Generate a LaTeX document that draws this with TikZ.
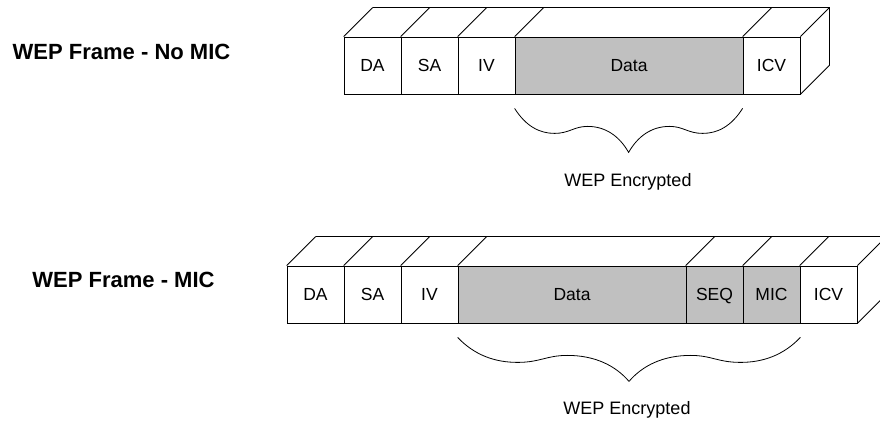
\documentclass[tikz,border=0pt]{standalone}
\usepackage{fontspec}
\setmainfont{Liberation Sans}
\usepackage{xcolor}
\usepackage{tikz}
\usetikzlibrary{calc}

\definecolor{encgray}{RGB}{192,192,192}

% wavy brace under the encrypted part, from #1 to #2
\newcommand{\encbrace}[2]{%
  \draw (#1) .. controls ($(#1)!0.05!(#2)+(0,-18)$) and ($(#1)!0.11!(#2)+(0,-25)$) .. ($(#1)!0.175!(#2)+(0,-25)$)
    .. controls ($(#1)!0.24!(#2)+(0,-25)$) and ($(#1)!0.26!(#2)+(0,-18)$) .. ($(#1)!0.32!(#2)+(0,-18)$)
    .. controls ($(#1)!0.40!(#2)+(0,-18)$) and ($(#1)!0.46!(#2)+(0,-28)$) .. ($(#1)!0.5!(#2)+(0,-44)$)
    .. controls ($(#1)!0.54!(#2)+(0,-28)$) and ($(#1)!0.60!(#2)+(0,-18)$) .. ($(#1)!0.68!(#2)+(0,-18)$)
    .. controls ($(#1)!0.74!(#2)+(0,-18)$) and ($(#1)!0.76!(#2)+(0,-25)$) .. ($(#1)!0.825!(#2)+(0,-25)$)
    .. controls ($(#1)!0.89!(#2)+(0,-25)$) and ($(#1)!0.95!(#2)+(0,-18)$) .. (#2);
}

\begin{document}
\begin{tikzpicture}[x=1pt, y=1pt, line width=0.8pt,
	cell/.style={font=\fontsize{17.5}{20}\selectfont, draw, fill=white, minimum width=57, minimum height=57, inner sep=0, text height=12.5, text depth=0, align=center},
	enc/.style={cell, fill=encgray},
	title/.style={font=\fontsize{22}{24}\selectfont\bfseries, inner sep=0},
	note/.style={font=\fontsize{18}{20}\selectfont, inner sep=0, anchor=base}
]
\useasboundingbox (0,0) rectangle (880,422);

% frame without MIC
\node[title] (t1) at (121.5,370.5) {WEP Frame - No MIC};
\node[cell] (da1) at (372.5,356.5) {DA};
\node[cell] (sa1) at (429.5,356.5) {SA};
\node[cell] (iv1) at (486.5,356.5) {IV};
\node[enc, minimum width=228] (data1) at (629,356.5) {Data};
\node[cell] (icv1) at (771.5,356.5) {ICV};

\foreach \n in {da1,sa1,iv1,data1,icv1}
	\draw (\n.north west) -- ++(29,29);
\draw (icv1.north east) -- ++(29,29);
\draw ([shift={(29,29)}]da1.north west) -- ([shift={(29,29)}]icv1.north east)
	-- ([shift={(29,29)}]icv1.south east) -- (icv1.south east);

\coordinate (bs1) at ([yshift=-14pt]data1.south west);
\coordinate (be1) at ([yshift=-14pt]icv1.south west);
\encbrace{bs1}{be1}
\node[note] (e1) at (628,235) {WEP Encrypted};

% frame with MIC
\node[title] (t2) at (123.5,142) {WEP Frame - MIC};
\node[cell] (da2) at (315.5,127.5) {DA};
\node[cell] (sa2) at (372.5,127.5) {SA};
\node[cell] (iv2) at (429.5,127.5) {IV};
\node[enc, minimum width=228] (data2) at (572,127.5) {Data};
\node[enc] (seq2) at (714.5,127.5) {SEQ};
\node[enc] (mic2) at (771.5,127.5) {MIC};
\node[cell] (icv2) at (828.5,127.5) {ICV};

\foreach \n in {da2,sa2,iv2,data2,seq2,mic2,icv2}
	\draw (\n.north west) -- ++(29,29);
\draw (icv2.north east) -- ++(29,29);
\draw ([shift={(29,29)}]da2.north west) -- ([shift={(29,29)}]icv2.north east)
	-- ([shift={(29,29)}]icv2.south east) -- (icv2.south east);

\coordinate (bs2) at ([yshift=-14pt]data2.south west);
\coordinate (be2) at ([yshift=-14pt]mic2.south east);
\encbrace{bs2}{be2}
\node[note] (e2) at (627,7) {WEP Encrypted};
\end{tikzpicture}
\end{document}
